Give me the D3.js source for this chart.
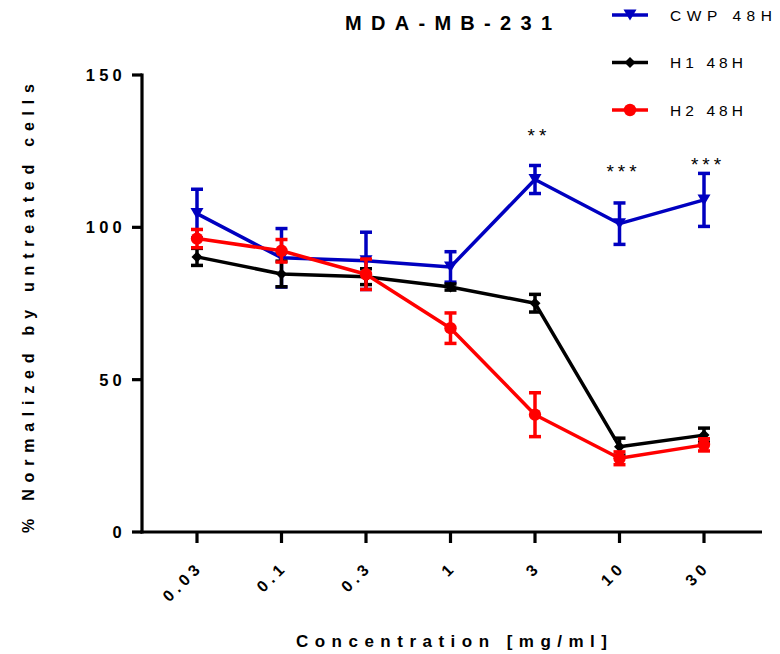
<!DOCTYPE html>
<html>
<head>
<meta charset="utf-8">
<script src="https://cdn.jsdelivr.net/npm/d3@7"></script>
<style>
  html, body { margin: 0; padding: 0; background: #fff; }
  svg { display: block; font-family: "Liberation Sans", Arial, Helvetica, sans-serif; }
</style>
</head>
<body>
<svg id="chart" width="780" height="654"></svg>
<script>
// Concentrations (mg/ml) on a categorical axis
const concentrations = ["0.03", "0.1", "0.3", "1", "3", "10", "30"];

// Mean viability (% of untreated) and SD for each treatment
const cwpMean = [104.5, 90.0, 89.0, 87.0, 115.7, 101.2, 109.0];
const cwpSd   = [8.0, 9.6, 9.4, 5.0, 4.6, 6.8, 8.7];
const h1Mean  = [90.3, 84.7, 83.8, 80.4, 75.1, 28.0, 31.8];
const h1Sd    = [2.8, 4.2, 2.6, 1.0, 2.9, 2.8, 2.3];
const h2Mean  = [96.3, 92.3, 84.6, 66.9, 38.5, 24.2, 28.6];
const h2Sd    = [3.0, 3.7, 5.0, 5.0, 7.2, 2.1, 2.0];

const seriesNames  = ["CWP 48H", "H1 48H", "H2 48H"];
const seriesColors = ["#0000c0", "#000000", "#ff0000"];
const seriesShapes = ["triangleDown", "diamond", "circle"];

// Significance markers above the CWP series
const sigConc   = ["3", "10", "30"];
const sigLabels = ["**", "***", "***"];
const sigLevel  = [128, 116.2, 118.5];

const yTicks = [0, 50, 100, 150];

const series = seriesNames.map((name, i) => ({
  name,
  color: seriesColors[i],
  shape: seriesShapes[i],
  mean: [cwpMean, h1Mean, h2Mean][i],
  sd: [cwpSd, h1Sd, h2Sd][i]
}));

const svg = d3.select("#chart");

const x = d3.scalePoint().domain(concentrations).range([197, 704]);
const y = d3.scaleLinear().domain([0, 150]).range([532, 75]);

const axisX0 = 142, axisX1 = 762;

// Marker path generators
const triDown = s => `M${-s},${-s * 0.85}L${s},${-s * 0.85}L0,${s * 0.85}Z`;
const diamond = s => `M0,${-s}L${s},0L0,${s}L${-s},0Z`;
function drawMarker(g, shape, color) {
  if (shape === "circle") {
    g.append("circle").attr("r", 6.2).attr("fill", color);
  } else if (shape === "diamond") {
    g.append("path").attr("d", diamond(5.5)).attr("fill", color);
  } else {
    g.append("path").attr("d", triDown(6.5)).attr("fill", color);
  }
}

// Axes
const axisColor = "#000";
svg.append("line")
  .attr("x1", axisX0).attr("x2", axisX0)
  .attr("y1", y(150) - 1.5).attr("y2", y(0) + 1.5)
  .attr("stroke", axisColor).attr("stroke-width", 3.2);
svg.append("line")
  .attr("x1", axisX0 - 1.5).attr("x2", axisX1)
  .attr("y1", y(0)).attr("y2", y(0))
  .attr("stroke", axisColor).attr("stroke-width", 3.2);

// Y ticks and labels
const yt = svg.append("g").selectAll("g").data(yTicks).join("g")
  .attr("transform", d => `translate(${axisX0},${y(d)})`);
yt.append("line").attr("x1", -10).attr("x2", 0)
  .attr("stroke", axisColor).attr("stroke-width", 3.2);
yt.append("text")
  .attr("x", -16).attr("dy", "0.36em")
  .attr("text-anchor", "end")
  .attr("font-size", 16.5).attr("font-weight", "bold")
  .attr("letter-spacing", "4.2px")
  .text(d => d);

// X ticks and rotated labels
const xt = svg.append("g").selectAll("g").data(concentrations).join("g")
  .attr("transform", d => `translate(${x(d)},${y(0)})`);
xt.append("line").attr("y1", 0).attr("y2", 11)
  .attr("stroke", axisColor).attr("stroke-width", 3.2);
xt.append("text")
  .attr("transform", "translate(7,36) rotate(-45)")
  .attr("text-anchor", "end")
  .attr("font-size", 16).attr("font-weight", "bold")
  .attr("letter-spacing", "4.5px")
  .text(d => d);

// Series: lines, error bars, markers
const line = d3.line().x(d => x(d.c)).y(d => y(d.m));
series.forEach(s => {
  const pts = concentrations.map((c, i) => ({ c, m: s.mean[i], sd: s.sd[i] }));
  const g = svg.append("g");
  g.append("path").datum(pts)
    .attr("d", line)
    .attr("fill", "none")
    .attr("stroke", s.color)
    .attr("stroke-width", 3.5)
    .attr("stroke-linejoin", "round");
  const eb = g.selectAll("g.eb").data(pts).join("g").attr("class", "eb");
  eb.append("line")
    .attr("x1", d => x(d.c)).attr("x2", d => x(d.c))
    .attr("y1", d => y(d.m + d.sd)).attr("y2", d => y(d.m - d.sd))
    .attr("stroke", s.color).attr("stroke-width", 3.5);
  [1, -1].forEach(sign => {
    eb.append("line")
      .attr("x1", d => x(d.c) - 6).attr("x2", d => x(d.c) + 6)
      .attr("y1", d => y(d.m + sign * d.sd)).attr("y2", d => y(d.m + sign * d.sd))
      .attr("stroke", s.color).attr("stroke-width", 3.5);
  });
  pts.forEach(p => {
    const mg = g.append("g").attr("transform", `translate(${x(p.c)},${y(p.m)})`);
    drawMarker(mg, s.shape, s.color);
  });
});

// Significance asterisks
svg.append("g").selectAll("text").data(sigConc).join("text")
  .attr("x", (d, i) => x(d) + 4)
  .attr("y", (d, i) => y(sigLevel[i]))
  .attr("text-anchor", "middle")
  .attr("font-size", 19)
  .attr("letter-spacing", "4px")
  .text((d, i) => sigLabels[i]);

// Title
svg.append("text")
  .attr("x", 345).attr("y", 30)
  .attr("font-size", 20).attr("font-weight", "bold")
  .attr("textLength", 207).attr("lengthAdjust", "spacing")
  .text("MDA-MB-231");

// Axis titles
svg.append("text")
  .attr("x", 296).attr("y", 647)
  .attr("font-size", 17).attr("font-weight", "bold")
  .attr("textLength", 311).attr("lengthAdjust", "spacing")
  .text("Concentration [mg/ml]");

svg.append("text")
  .attr("transform", "translate(34,533) rotate(-90)")
  .attr("font-size", 16).attr("font-weight", "bold")
  .attr("textLength", 449).attr("lengthAdjust", "spacing")
  .text("% Normalized by untreated cells");

// Legend
const lg = svg.append("g").selectAll("g").data(series).join("g")
  .attr("transform", (d, i) => `translate(612,${15 + i * 47.5})`);
lg.append("line").attr("x1", 0).attr("x2", 36)
  .attr("stroke", d => d.color).attr("stroke-width", 3.5);
lg.each(function(d) {
  drawMarker(d3.select(this).append("g").attr("transform", "translate(18,0)"), d.shape, d.color);
});
lg.append("text")
  .attr("x", 58).attr("y", 5.5)
  .attr("font-size", 15.5)
  .attr("textLength", (d, i) => i === 0 ? 102 : 73)
  .attr("lengthAdjust", "spacing")
  .text(d => d.name);
</script>
</body>
</html>
